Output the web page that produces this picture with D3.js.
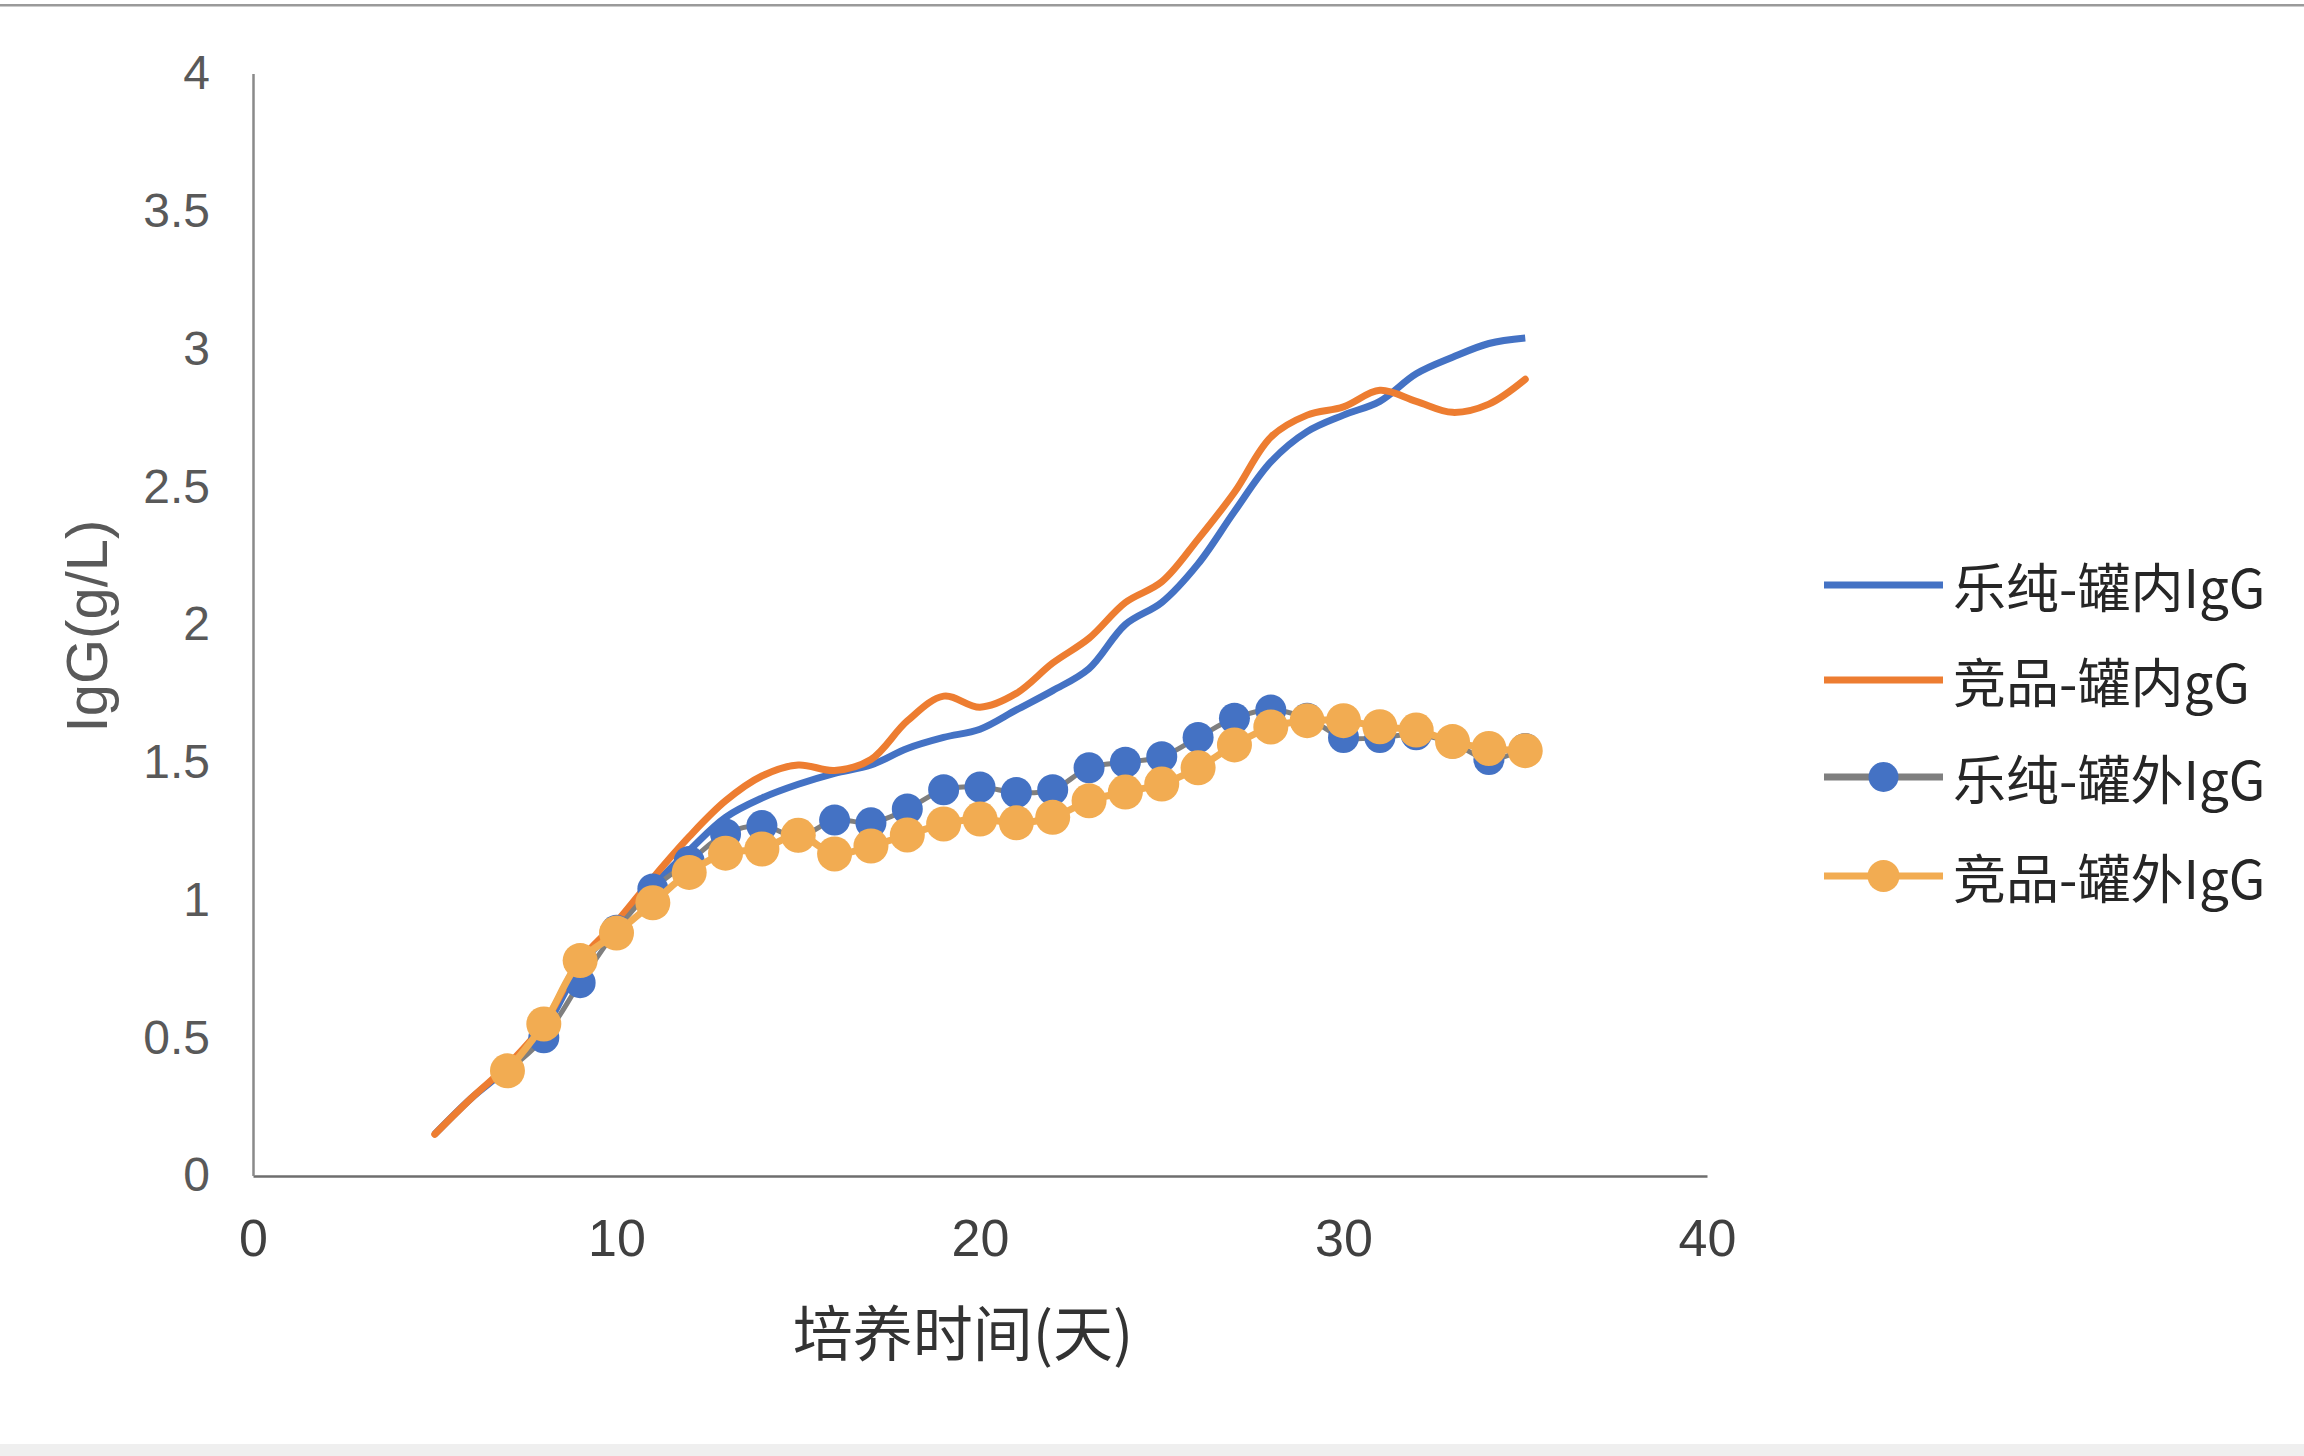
<!DOCTYPE html>
<html>
<head>
<meta charset="utf-8">
<script src="https://cdn.jsdelivr.net/npm/d3@7"></script>
<style>
  html, body { margin: 0; padding: 0; background: #ffffff; }
  svg { display: block; }
</style>
</head>
<body>
<svg id="chart" width="2304" height="1456"></svg>
<script>
// ---------- data ----------
const daysIn = [5,6,7,8,9,10,11,12,13,14,15,16,17,18,19,20,21,22,23,24,25,26,27,28,29,30,31,32,33,34,35];
const lechunIn = [0.15,0.28,0.39,0.53,0.76,0.91,1.05,1.18,1.30,1.37,1.42,1.46,1.49,1.55,1.59,1.62,1.69,1.76,1.84,2.00,2.08,2.22,2.41,2.59,2.70,2.76,2.81,2.91,2.97,3.02,3.04];
const jingpinIn = [0.15,0.28,0.40,0.55,0.78,0.92,1.08,1.23,1.36,1.45,1.49,1.47,1.51,1.65,1.74,1.70,1.75,1.86,1.95,2.08,2.155,2.31,2.48,2.68,2.76,2.79,2.85,2.81,2.77,2.80,2.89];
const daysOut = [7,8,9,10,11,12,13,14,15,16,17,18,19,20,21,22,23,24,25,26,27,28,29,30,31,32,33,34,35];
const lechunOut = [0.38,0.50,0.70,0.89,1.04,1.14,1.24,1.27,1.23,1.29,1.28,1.33,1.40,1.41,1.39,1.40,1.48,1.50,1.52,1.59,1.66,1.69,1.66,1.59,1.59,1.60,1.57,1.51,1.55];
const jingpinOut = [0.38,0.55,0.78,0.88,0.99,1.10,1.17,1.185,1.235,1.167,1.196,1.236,1.276,1.294,1.28,1.30,1.36,1.392,1.421,1.48,1.563,1.628,1.651,1.651,1.629,1.617,1.575,1.55,1.542];

const xTicks = [0,10,20,30,40];
const yTicks = [0,0.5,1,1.5,2,2.5,3,3.5,4];
const yTickLabels = ["0","0.5","1","1.5","2","2.5","3","3.5","4"];

const seriesNames = ["乐纯-罐内IgG","竞品-罐内gG","乐纯-罐外IgG","竞品-罐外IgG"];
const xTitle = "培养时间(天)";
const yTitle = "IgG(g/L)";

// ---------- styles ----------
const C_BLUE = "#4472C4", C_ORANGE = "#ED7D31", C_GRAY = "#7F7F7F", C_GOLD = "#F2AC52";

const svg = d3.select("#chart");

// page frame
svg.append("rect").attr("x",0).attr("y",0).attr("width",2304).attr("height",1456).attr("fill","#ffffff");
svg.append("rect").attr("x",0).attr("y",4).attr("width",2304).attr("height",2.5).attr("fill","#9a9a9a");
svg.append("rect").attr("x",0).attr("y",1444).attr("width",2304).attr("height",12).attr("fill","#efefef");

const x = d3.scaleLinear().domain([0,40]).range([253,1707]);
const y = d3.scaleLinear().domain([0,4]).range([1175.5,73.5]);

// axes
const xAxis = svg.append("g").attr("transform","translate(0,1176)")
  .call(d3.axisBottom(x).tickValues(xTicks).tickSize(0).tickPadding(43).tickFormat(d3.format("d")));
xAxis.select(".domain").attr("stroke","#6e6e6e").attr("stroke-width",2.5);
xAxis.selectAll("text").attr("font-family","Liberation Sans, Arial, sans-serif")
  .attr("font-size",52).attr("fill","#404040");

const yAxis = svg.append("g").attr("transform","translate(253,0)")
  .call(d3.axisLeft(y).tickValues(yTicks).tickSize(0).tickPadding(43)
    .tickFormat((d,i) => yTickLabels[i]));
yAxis.select(".domain").attr("stroke","#8a8a8a").attr("stroke-width",2.5);
yAxis.selectAll("text").attr("font-family","Liberation Sans, Arial, sans-serif")
  .attr("font-size",48).attr("fill","#595959");

// axis titles
svg.append("text").attr("x",963).attr("y",1329).attr("text-anchor","middle")
  .attr("dominant-baseline","central")
  .attr("font-family","Noto Sans CJK SC, sans-serif").attr("font-size",60).attr("fill","#333333")
  .text(xTitle);
svg.append("text").attr("transform","translate(107,626) rotate(-90)").attr("text-anchor","middle")
  .attr("font-family","Liberation Sans, Arial, sans-serif").attr("font-size",58).attr("fill","#595959")
  .text(yTitle);

// lines
const line = d3.line().x(d => x(d[0])).y(d => y(d[1])).curve(d3.curveCatmullRom.alpha(0.5));
const zip = (xs, ys) => xs.map((v,i) => [v, ys[i]]);

const plot = svg.append("g");
plot.append("path").datum(zip(daysIn, lechunIn)).attr("d", line)
  .attr("fill","none").attr("stroke",C_BLUE).attr("stroke-width",7).attr("stroke-linecap","butt");
plot.append("path").datum(zip(daysIn, jingpinIn)).attr("d", line)
  .attr("fill","none").attr("stroke",C_ORANGE).attr("stroke-width",7).attr("stroke-linecap","round");

// out series 1 (gray line, blue markers)
plot.append("path").datum(zip(daysOut, lechunOut)).attr("d", line)
  .attr("fill","none").attr("stroke",C_GRAY).attr("stroke-width",5);
plot.selectAll("circle.lo").data(zip(daysOut, lechunOut)).join("circle").attr("class","lo")
  .attr("cx", d => x(d[0])).attr("cy", d => y(d[1])).attr("r",15.5).attr("fill",C_BLUE);

// out series 2 (gold line, gold markers)
plot.append("path").datum(zip(daysOut, jingpinOut)).attr("d", line)
  .attr("fill","none").attr("stroke",C_GOLD).attr("stroke-width",7);
plot.selectAll("circle.jo").data(zip(daysOut, jingpinOut)).join("circle").attr("class","jo")
  .attr("cx", d => x(d[0])).attr("cy", d => y(d[1])).attr("r",17.5).attr("fill",C_GOLD);

// legend
const legendY = [585, 680, 777, 876];
const legendLine = [C_BLUE, C_ORANGE, C_GRAY, C_GOLD];
const legendMarker = [null, null, C_BLUE, C_GOLD];
const lg = svg.append("g");
seriesNames.forEach((name, i) => {
  const yy = legendY[i];
  lg.append("line").attr("x1",1824).attr("x2",1943).attr("y1",yy).attr("y2",yy)
    .attr("stroke",legendLine[i]).attr("stroke-width",7);
  if (legendMarker[i]) {
    lg.append("circle").attr("cx",1883.5).attr("cy",yy).attr("r", i === 3 ? 16 : 15).attr("fill",legendMarker[i]);
  }
  lg.append("text").attr("x",1953).attr("y",yy).attr("dominant-baseline","central")
    .attr("font-family","Noto Sans CJK SC, sans-serif").attr("font-size",53).attr("fill","#262626")
    .text(name);
});
</script>
</body>
</html>
